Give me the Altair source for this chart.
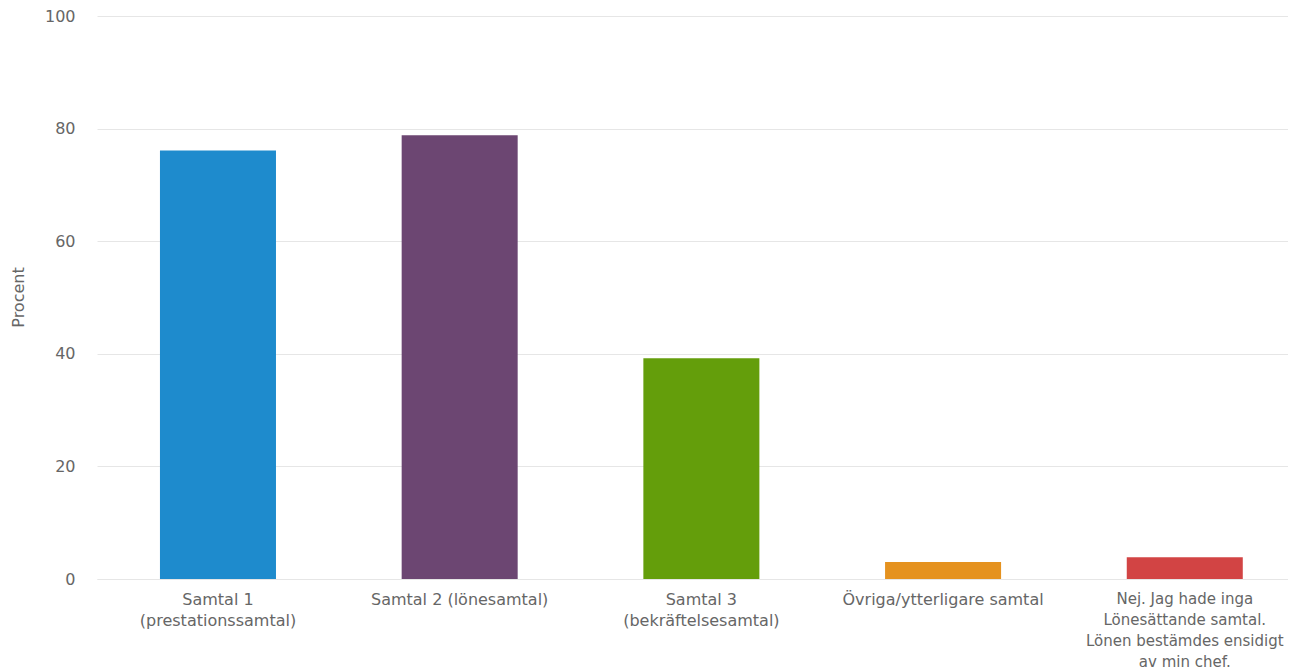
import altair as alt
import pandas as pd

categories = [
    "Samtal 1 (prestationssamtal)",
    "Samtal 2 (lönesamtal)",
    "Samtal 3 (bekräftelsesamtal)",
    "Övriga/ytterligare samtal",
    "Nej. Jag hade inga Lönesättande samtal. Lönen bestämdes ensidigt av min chef.",
]
label_lines = [
    "Samtal 1|(prestationssamtal)",
    "Samtal 2 (lönesamtal)",
    "Samtal 3|(bekräftelsesamtal)",
    "Övriga/ytterligare samtal",
    "Nej. Jag hade inga|Lönesättande samtal.|Lönen bestämdes ensidigt|av min chef.",
]
values = [76.1, 78.8, 39.2, 3.0, 3.85]
colors = ["#1E8BCD", "#6C4672", "#649E0B", "#E5921F", "#D24444"]

df = pd.DataFrame({"kategori": label_lines, "procent": values, "farg": colors})

FONT = "DejaVu Sans"

chart = (
    alt.Chart(df)
    .mark_bar()
    .encode(
        x=alt.X(
            "kategori:N",
            sort=label_lines,
            scale=alt.Scale(paddingInner=0.52, paddingOuter=0.2238, align=0.582),
            axis=alt.Axis(
                title=None,
                labelAngle=0,
                labelExpr="split(datum.value, '|')",
                labelFont=FONT,
                labelFontSize={
                    "condition": {"test": "indexof(datum.value, 'Nej') == 0", "value": 15},
                    "value": 16,
                },
                labelColor="#666666",
                labelLineHeight=21,
                labelPadding=12,
                labelBaseline="top",
                labelLimit=0,
                ticks=False,
                domain=True,
                domainColor="#e6e6e6",
                grid=False,
            ),
        ),
        y=alt.Y(
            "procent:Q",
            scale=alt.Scale(domain=[0, 100], nice=False),
            axis=alt.Axis(
                title="Procent",
                values=[0, 20, 40, 60, 80, 100],
                titleFont=FONT,
                titleFontSize=16,
                titleFontWeight="normal",
                titleColor="#666666",
                titleX=-79,
                titleY=281,
                titleAngle=-90,
                titleAlign="center",
                titleBaseline="middle",
                labelFont=FONT,
                labelFontSize=16,
                labelColor="#666666",
                labelPadding=22,
                labelBaseline="middle",
                ticks=False,
                domain=False,
                grid=True,
                gridColor="#e6e6e6",
                gridWidth=1,
            ),
        ),
        color=alt.Color("farg:N", scale=None, legend=None),
    )
    .properties(
        width=1191,
        height=563,
        padding={"left": 89, "top": 8, "right": 0, "bottom": 110},
        autosize=alt.AutoSizeParams(type="none"),
    )
    .configure_view(stroke=None)
)

chart.save("out.html", embed_options={"renderer": "svg", "actions": False})
